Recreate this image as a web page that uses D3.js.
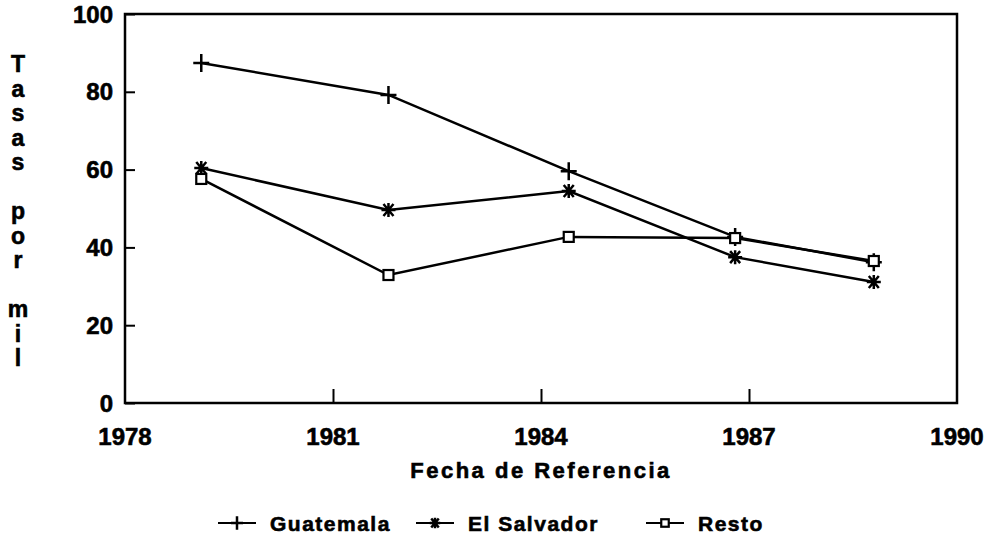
<!DOCTYPE html>
<html>
<head>
<meta charset="utf-8">
<script src="https://cdn.jsdelivr.net/npm/d3@7"></script>
<style>
  body { margin: 0; background: #fff; }
  svg text { font-family: "Liberation Sans", Arial, sans-serif; font-weight: bold; fill: #000; stroke: #000; stroke-width: 0.6px; }
</style>
</head>
<body>
<div id="chart"></div>
<script>
// Data
const years = [1979.1, 1981.8, 1984.4, 1986.8, 1988.8];
const guatemala = [87.4, 79.2, 59.6, 42.7, 36.2];
const elSalvador = [60.4, 49.6, 54.5, 37.5, 31.1];
const resto = [57.6, 32.9, 42.7, 42.4, 36.5];
const xTicks = [1978, 1981, 1984, 1987, 1990];
const yTicks = [0, 20, 40, 60, 80, 100];
const seriesNames = ["Guatemala", "El Salvador", "Resto"];
const yLabel = "Tasas por mil";
const xLabel = "Fecha de Referencia";

// Dimensions
const width = 990, height = 557;
const margin = { top: 14, right: 33, bottom: 154, left: 125 };
const w = width - margin.left - margin.right;
const h = height - margin.top - margin.bottom;

const svg = d3.select("#chart")
    .append("svg")
    .attr("width", width)
    .attr("height", height);

const g = svg.append("g")
    .attr("transform", `translate(${margin.left}, ${margin.top})`);

// Scales
const x = d3.scaleLinear().domain([1978, 1990]).range([0, w]);
const y = d3.scaleLinear().domain([0, 100]).range([h, 0]);

// Frame
g.append("rect")
    .attr("x", 0).attr("y", 0)
    .attr("width", w).attr("height", h)
    .attr("fill", "none")
    .attr("stroke", "#000")
    .attr("stroke-width", 2.5);

// Y axis (ticks pointing inward)
const yAxis = g.append("g")
    .call(d3.axisRight(y).tickValues(yTicks).tickSize(10).tickFormat(""));
yAxis.select(".domain").remove();
yAxis.selectAll("line").attr("stroke-width", 2);

g.selectAll(".ylab")
    .data(yTicks)
    .enter().append("text")
    .attr("class", "ylab")
    .attr("x", -12)
    .attr("y", d => y(d))
    .attr("dy", "0.36em")
    .attr("text-anchor", "end")
    .style("font-size", "24px")
    .text(d => d);

// X axis (ticks pointing upward)
const xAxis = g.append("g")
    .attr("transform", `translate(0, ${h})`)
    .call(d3.axisTop(x).tickValues(xTicks.slice(1, -1)).tickSize(14).tickFormat(""));
xAxis.select(".domain").remove();
xAxis.selectAll("line").attr("stroke-width", 2);

g.selectAll(".xlab")
    .data(xTicks)
    .enter().append("text")
    .attr("class", "xlab")
    .attr("x", d => x(d))
    .attr("y", h + 42)
    .attr("text-anchor", "middle")
    .style("font-size", "24px")
    .text(d => d);

// Axis titles
g.append("text")
    .attr("x", w / 2)
    .attr("y", h + 75)
    .attr("text-anchor", "middle")
    .style("font-size", "22px")
    .style("letter-spacing", "2.5px")
    .text(xLabel);

const letters = yLabel.split("");
svg.selectAll(".ychar")
    .data(letters)
    .enter().append("text")
    .attr("class", "ychar")
    .attr("x", 18)
    .attr("y", (d, i) => 64 + i * 24.5)
    .attr("dy", "0.36em")
    .attr("text-anchor", "middle")
    .style("font-size", "23px")
    .text(d => d);

// Series
const series = [
    { name: seriesNames[0], values: guatemala, marker: "plus" },
    { name: seriesNames[1], values: elSalvador, marker: "star" },
    { name: seriesNames[2], values: resto, marker: "square" }
];

const line = d3.line()
    .x(d => x(d[0]))
    .y(d => y(d[1]));

function drawMarker(sel, type, k) {
    if (type === "plus") {
        sel.append("path")
            .attr("d", `M${-8 * k},0H${8 * k}M0,${-9 * k}V${9 * k}`)
            .attr("stroke", "#000").attr("stroke-width", 2.5).attr("fill", "none");
    } else if (type === "star") {
        sel.append("path")
            .attr("d", `M${-7 * k},0H${7 * k}M${-5 * k},${-6 * k}L${5 * k},${6 * k}M${-5 * k},${6 * k}L${5 * k},${-6 * k}M0,${-7 * k}V${7 * k}`)
            .attr("stroke", "#000").attr("stroke-width", 2.5).attr("fill", "none");
    } else {
        sel.append("rect")
            .attr("x", -5 * k).attr("y", -5 * k).attr("width", 10 * k).attr("height", 10 * k)
            .attr("stroke", "#000").attr("stroke-width", 2.2).attr("fill", "#fff");
    }
}

series.forEach(s => {
    const pts = years.map((yr, i) => [yr, s.values[i]]);
    g.append("path")
        .datum(pts)
        .attr("d", line)
        .attr("fill", "none")
        .attr("stroke", "#000")
        .attr("stroke-width", 2.5);
    g.selectAll(null)
        .data(pts)
        .enter().append("g")
        .attr("transform", d => `translate(${x(d[0])}, ${y(d[1])})`)
        .each(function () { drawMarker(d3.select(this), s.marker, 1); });
});

// Legend
const legendX = [218, 416, 646];
const legend = svg.selectAll(".legend")
    .data(series)
    .enter().append("g")
    .attr("class", "legend")
    .attr("transform", (d, i) => `translate(${legendX[i]}, 523)`);

legend.append("line")
    .attr("x1", 0).attr("x2", 38)
    .attr("stroke", "#000").attr("stroke-width", 2);
legend.append("g")
    .attr("transform", "translate(19, 0)")
    .each(function (d) { drawMarker(d3.select(this), d.marker, 0.75); });
legend.append("text")
    .attr("x", 52)
    .attr("dy", "0.36em")
    .style("font-size", "21px")
    .style("letter-spacing", "1.5px")
    .text(d => d.name);
</script>
</body>
</html>
